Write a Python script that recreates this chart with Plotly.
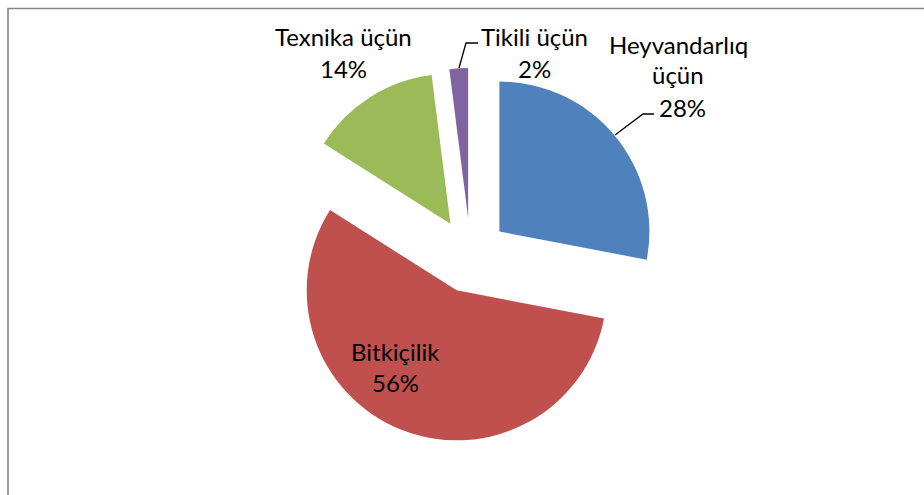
import plotly.graph_objects as go

labels = ["Heyvandarlıq üçün", "Bitkiçilik", "Texnika üçün", "Tikili üçün"]
values = [28, 56, 14, 2]
colors = ["#4F81BD", "#C0504D", "#9BBB59", "#8064A2"]
pulls = [0.25, 0.25, 0.25, 0.25]

W, H = 924, 495

def px(x):
    return x / W

def py(y):
    return 1 - y / H

# pie centre (470.5, 255.5) px, radius 150 px, pull 0.25 -> box 375 px
cx, cy, half = 470.5, 255.5, 187.5

fig = go.Figure(go.Pie(
    labels=labels, values=values, sort=False, direction="clockwise", rotation=0,
    marker=dict(colors=colors, line=dict(width=0)),
    pull=pulls, textinfo="none", hoverinfo="label+percent",
    domain=dict(x=[px(cx - half), px(cx + half)], y=[py(cy + half), py(cy - half)]),
    showlegend=False,
))

total = sum(values)
pct = [f"{round(v * 100 / total)}%" for v in values]

font = dict(family="Lato, Open Sans, sans-serif", size=24, color="#000000")
label_lines = [
    ("Heyvandarlıq", 678, 44), ("üçün", 678, 75), (pct[0], 682, 107),
    (labels[1], 395, 351), (pct[1], 395, 382),
    (labels[2], 343, 36), (pct[2], 343, 68),
    (labels[3], 534, 36), (pct[3], 534, 68),
]
annotations = [dict(text=t, x=px(x), y=py(y), xref="paper", yref="paper",
                    showarrow=False, font=font, xanchor="center", yanchor="middle")
               for t, x, y in label_lines]

shapes = [
    dict(type="rect", xref="paper", yref="paper", x0=px(8), y0=-0.1, x1=1.1, y1=py(8.5),
         line=dict(color="#858585", width=1.6), fillcolor="rgba(0,0,0,0)"),
    dict(type="path", xref="paper", yref="paper",
         path=f"M {px(459)},{py(68)} L {px(466)},{py(43)} L {px(478)},{py(43)}",
         line=dict(color="#000000", width=1.3)),
    dict(type="path", xref="paper", yref="paper",
         path=f"M {px(615)},{py(135)} L {px(643)},{py(114)} L {px(654)},{py(114)}",
         line=dict(color="#000000", width=1.3)),
]

fig.update_layout(
    width=W, height=H, margin=dict(l=0, r=0, t=0, b=0),
    paper_bgcolor="white", plot_bgcolor="white",
    annotations=annotations, shapes=shapes,
)

fig.write_html(
    "out.html",
    config={"displayModeBar": False},
    post_script="document.body.style.margin='0';document.body.style.overflow='hidden';",
)
